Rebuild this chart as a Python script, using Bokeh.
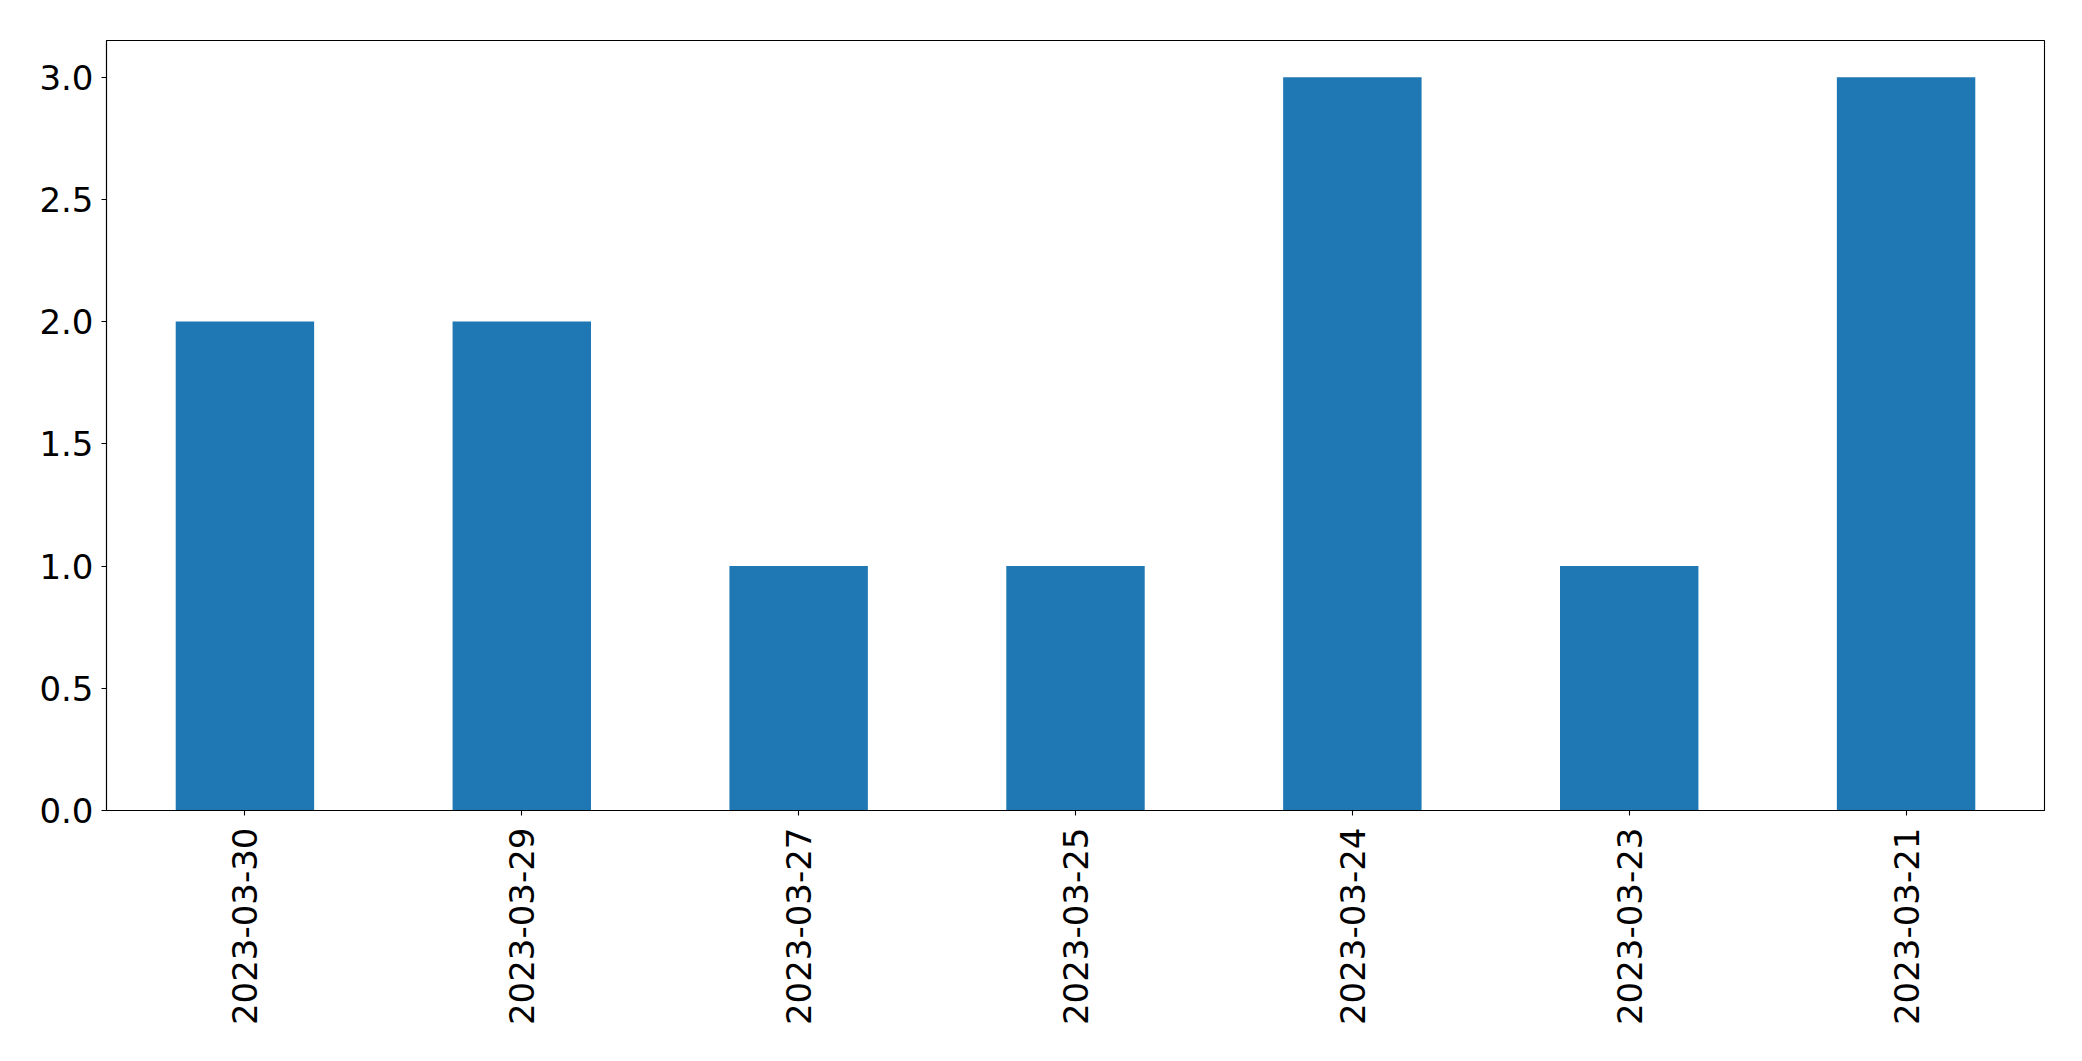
from bokeh.plotting import figure
from bokeh.models import FixedTicker, PrintfTickFormatter, Range1d
from bokeh.embed import file_html
from bokeh.resources import INLINE
import math

dates = ["2023-03-30", "2023-03-29", "2023-03-27", "2023-03-25", "2023-03-24", "2023-03-23", "2023-03-21"]
counts = [2, 2, 1, 1, 3, 1, 3]
y_ticks = [0.0, 0.5, 1.0, 1.5, 2.0, 2.5, 3.0]

p = figure(x_range=dates, y_range=Range1d(0, 3.15),
           frame_width=1938, frame_height=770,
           min_border_left=106, min_border_top=40, min_border_right=30, min_border_bottom=200,
           output_backend="svg", toolbar_location=None, background_fill_color="white",
           border_fill_color="white")
p.x_range.range_padding = 0

p.vbar(x=dates, top=counts, width=0.5, color="#1f77b4", line_color=None)

p.xgrid.visible = False
p.ygrid.visible = False
p.outline_line_color = "black"
p.outline_line_width = 1.1
p.outline_line_alpha = 1

for ax in (p.xaxis, p.yaxis):
    ax.axis_line_color = "black"
    ax.axis_line_width = 1.1
    ax.major_tick_line_color = "black"
    ax.major_tick_line_width = 1.1
    ax.major_tick_out = 5
    ax.major_tick_in = 0
    ax.minor_tick_line_color = None
    ax.major_label_text_font = "DejaVu Sans"
    ax.major_label_text_font_size = "34px"
    ax.major_label_text_color = "black"

p.yaxis.ticker = FixedTicker(ticks=y_ticks)
p.yaxis.formatter = PrintfTickFormatter(format="%.1f")
p.yaxis.major_label_standoff = 8
p.xaxis.major_label_orientation = math.pi / 2
p.xaxis.major_label_standoff = 12

open("out.html", "w").write(file_html(p, INLINE))
